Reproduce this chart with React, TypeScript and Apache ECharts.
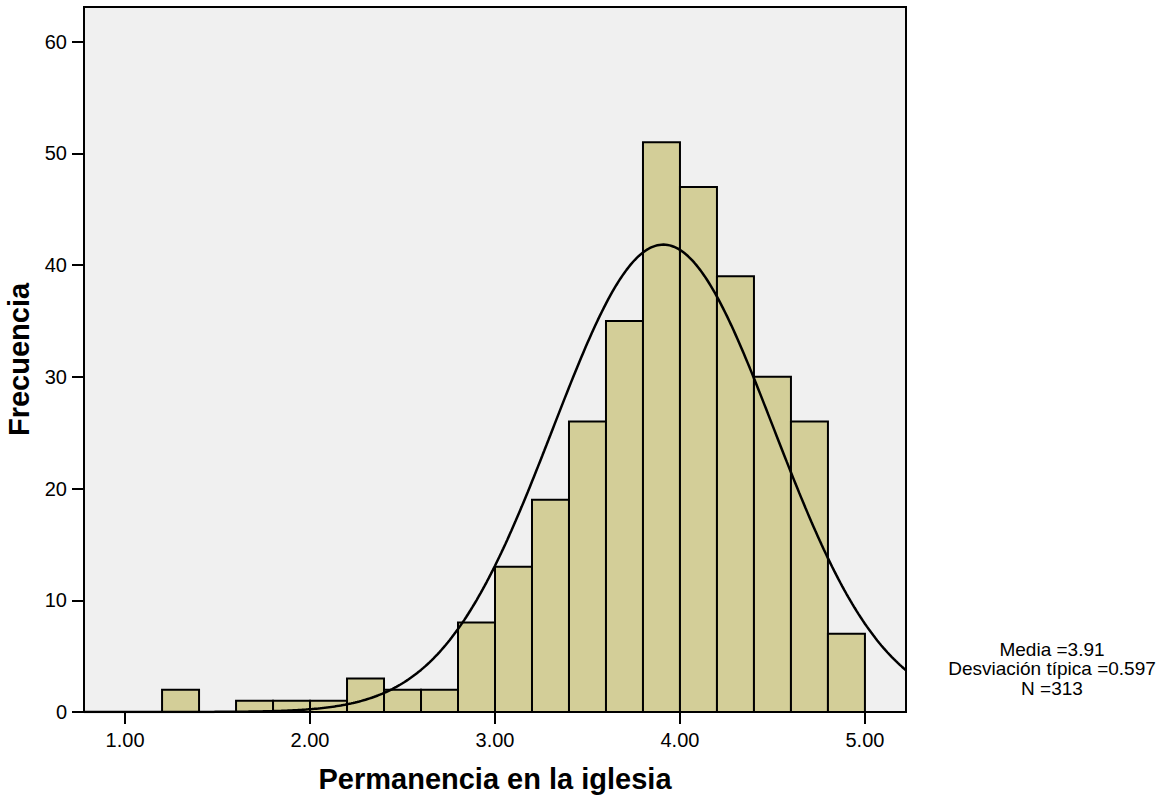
import React, { useEffect, useRef } from "react";
import * as echarts from "echarts";

const binStarts = [1.2, 1.6, 1.8, 2.0, 2.2, 2.4, 2.6, 2.8, 3.0, 3.2, 3.4, 3.6, 3.8, 4.0, 4.2, 4.4, 4.6, 4.8];
const counts = [2, 1, 1, 1, 3, 2, 2, 8, 13, 19, 26, 35, 51, 47, 39, 30, 26, 7];
const binWidth = 0.2;
const xTicks = [1, 2, 3, 4, 5];
const yTicks = [0, 10, 20, 30, 40, 50, 60];
const mean = 3.91;
const sd = 0.597;
const n = 313;
const statLines = ["Media =3.91", "Desviación típica =0.597", "N =313"];

const xMin = 0.778;
const xMax = 5.222;
const yMax = 63.1;

export default function App() {
  const ref = useRef<HTMLDivElement>(null);
  useEffect(() => {
    document.body.style.margin = "0";
    if (!ref.current) return;
    const chart = echarts.init(ref.current, null, { renderer: "svg" });
    const font = "'Liberation Sans', Arial, sans-serif";
    const barData = binStarts.map((s, i) => [s, s + binWidth, counts[i]]);
    const curve: number[][] = [];
    const steps = 400;
    for (let i = 0; i <= steps; i++) {
      const x = xMin + ((xMax - xMin) * i) / steps;
      const z = (x - mean) / sd;
      const y = (n * binWidth) / (sd * Math.sqrt(2 * Math.PI)) * Math.exp(-0.5 * z * z);
      curve.push([x, y]);
    }
    chart.setOption({
      animation: false,
      backgroundColor: "#ffffff",
      textStyle: { fontFamily: font },
      grid: {
        left: 84,
        right: 253,
        top: 7,
        bottom: 85,
        containLabel: false,
        outerBoundsMode: "none",
        show: true,
        backgroundColor: "#f0f0f0",
        borderColor: "#000",
        borderWidth: 2,
      },
      xAxis: {
        type: "value",
        min: xMin,
        max: xMax,
        name: "Permanencia en la iglesia",
        nameLocation: "middle",
        nameGap: 52,
        nameTextStyle: { fontSize: 29, fontWeight: "bold", color: "#000", fontFamily: font },
        axisLine: { show: false },
        axisTick: { show: true, length: 12, customValues: xTicks, lineStyle: { color: "#000", width: 2 } },
        axisLabel: {
          customValues: xTicks,
          formatter: (v: number) => v.toFixed(2),
          fontSize: 20,
          color: "#000",
          margin: 18,
          fontFamily: font,
        },
        splitLine: { show: false },
      },
      yAxis: {
        type: "value",
        min: 0,
        max: yMax,
        name: "Frecuencia",
        nameLocation: "middle",
        nameGap: 45,
        nameTextStyle: { fontSize: 29, fontWeight: "bold", color: "#000", fontFamily: font },
        axisLine: { show: false },
        axisTick: { show: true, length: 12, customValues: yTicks, lineStyle: { color: "#000", width: 2 } },
        axisLabel: {
          customValues: yTicks,
          fontSize: 20,
          color: "#000",
          margin: 17,
          fontFamily: font,
        },
        splitLine: { show: false },
      },
      series: [
        {
          type: "custom",
          data: barData,
          encode: { x: [0, 1], y: 2 },
          renderItem: (params: any, api: any) => {
            const p0 = api.coord([api.value(0), api.value(2)]);
            const p1 = api.coord([api.value(1), 0]);
            return {
              type: "rect",
              shape: { x: p0[0], y: p0[1], width: p1[0] - p0[0], height: p1[1] - p0[1] },
              style: { fill: "#d3ce98", stroke: "#000", lineWidth: 2 },
            };
          },
          z: 2,
        },
        {
          type: "line",
          data: curve,
          showSymbol: false,
          symbol: "none",
          clip: true,
          lineStyle: { color: "#000", width: 2.5 },
          z: 3,
        },
      ],
      graphic: statLines.map((t, i) => ({
        type: "text",
        x: 1052,
        y: 649 + i * 19.5,
        style: {
          text: t,
          fontSize: 19,
          fill: "#000",
          fontFamily: font,
          textAlign: "center",
          textVerticalAlign: "middle",
        },
      })),
    });
    return () => chart.dispose();
  }, []);
  return <div ref={ref} style={{ width: 1159, height: 797 }} />;
}
